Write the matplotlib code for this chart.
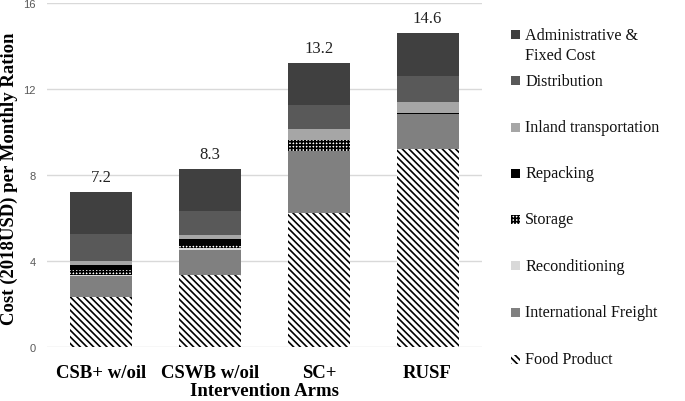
import matplotlib
matplotlib.use("Agg")
import matplotlib.pyplot as plt
from matplotlib.patches import Rectangle
import numpy as np

categories = ["CSB+ w/oil", "CSWB w/oil", "SC+", "RUSF"]
components = ["Food Product", "International Freight", "Reconditioning", "Storage",
              "Repacking", "Inland transportation", "Distribution", "Administrative &\nFixed Cost"]
food_product = [2.34, 3.37, 6.23, 9.22]
international_freight = [0.97, 1.16, 2.90, 1.60]
reconditioning = [0.05, 0.06, 0.00, 0.00]
storage = [0.20, 0.17, 0.51, 0.03]
repacking = [0.27, 0.26, 0.00, 0.03]
inland_transportation = [0.17, 0.19, 0.50, 0.50]
distribution = [1.27, 1.13, 1.12, 1.24]
administrative = [1.94, 1.94, 1.94, 1.98]
totals = [7.2, 8.3, 13.2, 14.6]
y_ticks = [0, 4, 8, 12, 16]

series = [food_product, international_freight, reconditioning, storage,
          repacking, inland_transportation, distribution, administrative]
styles = [
    dict(facecolor="white", hatch="\\\\\\\\\\"),
    dict(facecolor="#808080", hatch=None),
    dict(facecolor="#d9d9d9", hatch=None),
    dict(facecolor="white", hatch="+++++"),
    dict(facecolor="black", hatch=None),
    dict(facecolor="#a6a6a6", hatch=None),
    dict(facecolor="#595959", hatch=None),
    dict(facecolor="#404040", hatch=None),
]

plt.rcParams["hatch.linewidth"] = 1.2
serif = ["Liberation Serif", "DejaVu Serif"]

fig = plt.figure(figsize=(6.85, 4.02), dpi=100)
ax = fig.add_axes([47/685, 1 - 348/402, (482-47)/685, (348-4)/402])

x = np.arange(len(categories))
bottom = np.zeros(len(categories))
for vals, st in zip(series, styles):
    vals = np.array(vals)
    ax.bar(x, vals, width=0.57, bottom=bottom, facecolor=st["facecolor"],
           hatch=st["hatch"], edgecolor="black" if st["hatch"] else "none",
           linewidth=0, zorder=3)
    bottom += vals

for xi, t, b in zip(x, totals, bottom):
    ax.annotate(f"{t}", (xi, b), xytext=(0, 5), textcoords="offset points",
                ha="center", va="bottom", fontsize=12, family=serif, color="#222222")

ax.set_xlim(-0.5, 3.5)
ax.set_ylim(0, 16)
ax.set_yticks(y_ticks)
ax.set_yticklabels([str(v) for v in y_ticks])
ax.yaxis.grid(True, color="#d9d9d9", linewidth=1, zorder=0)
ax.set_axisbelow(True)
for s in ax.spines.values():
    s.set_visible(False)
ax.tick_params(axis="y", length=0, pad=8, labelsize=8, labelcolor="#595959")
ax.tick_params(axis="x", length=0, pad=12)
ax.set_xticks(x)
ax.set_xticklabels(categories, fontsize=13.5, fontweight="bold", family=serif)
for lbl in ax.get_yticklabels():
    lbl.set_family(["Liberation Sans", "DejaVu Sans"])
ax.set_xlabel("Intervention Arms", fontsize=13.5, fontweight="bold", family=serif, labelpad=1)
fig.text(9.5/685, 1 - 179/402, "Cost (2018USD) per Monthly Ration", rotation=90,
         fontsize=13.5, fontweight="bold", family=serif, ha="center", va="center")

# manual legend (top to bottom)
W, H = 685, 402
legend_items = list(zip(components, styles))[::-1]
text_y = [46, 81.7, 128.3, 174, 220, 266.7, 313.3, 360]
handle_y = [35, 81.7, 128.3, 174, 220, 266.7, 313.3, 360]
for (name, st), ty, hy in zip(legend_items, text_y, handle_y):
    rect = Rectangle(((511)/W, 1 - (hy + 4.5)/H), 9/W, 9/H, transform=fig.transFigure,
                     facecolor=st["facecolor"], hatch=st["hatch"],
                     edgecolor="black" if st["hatch"] else "none", linewidth=0)
    fig.add_artist(rect)
    fig.text(525/W, 1 - ty/H, name, fontsize=11.6, family=serif, va="center", ha="left",
             linespacing=1.35, color="#111111")

fig.savefig("out.png", dpi=100)
